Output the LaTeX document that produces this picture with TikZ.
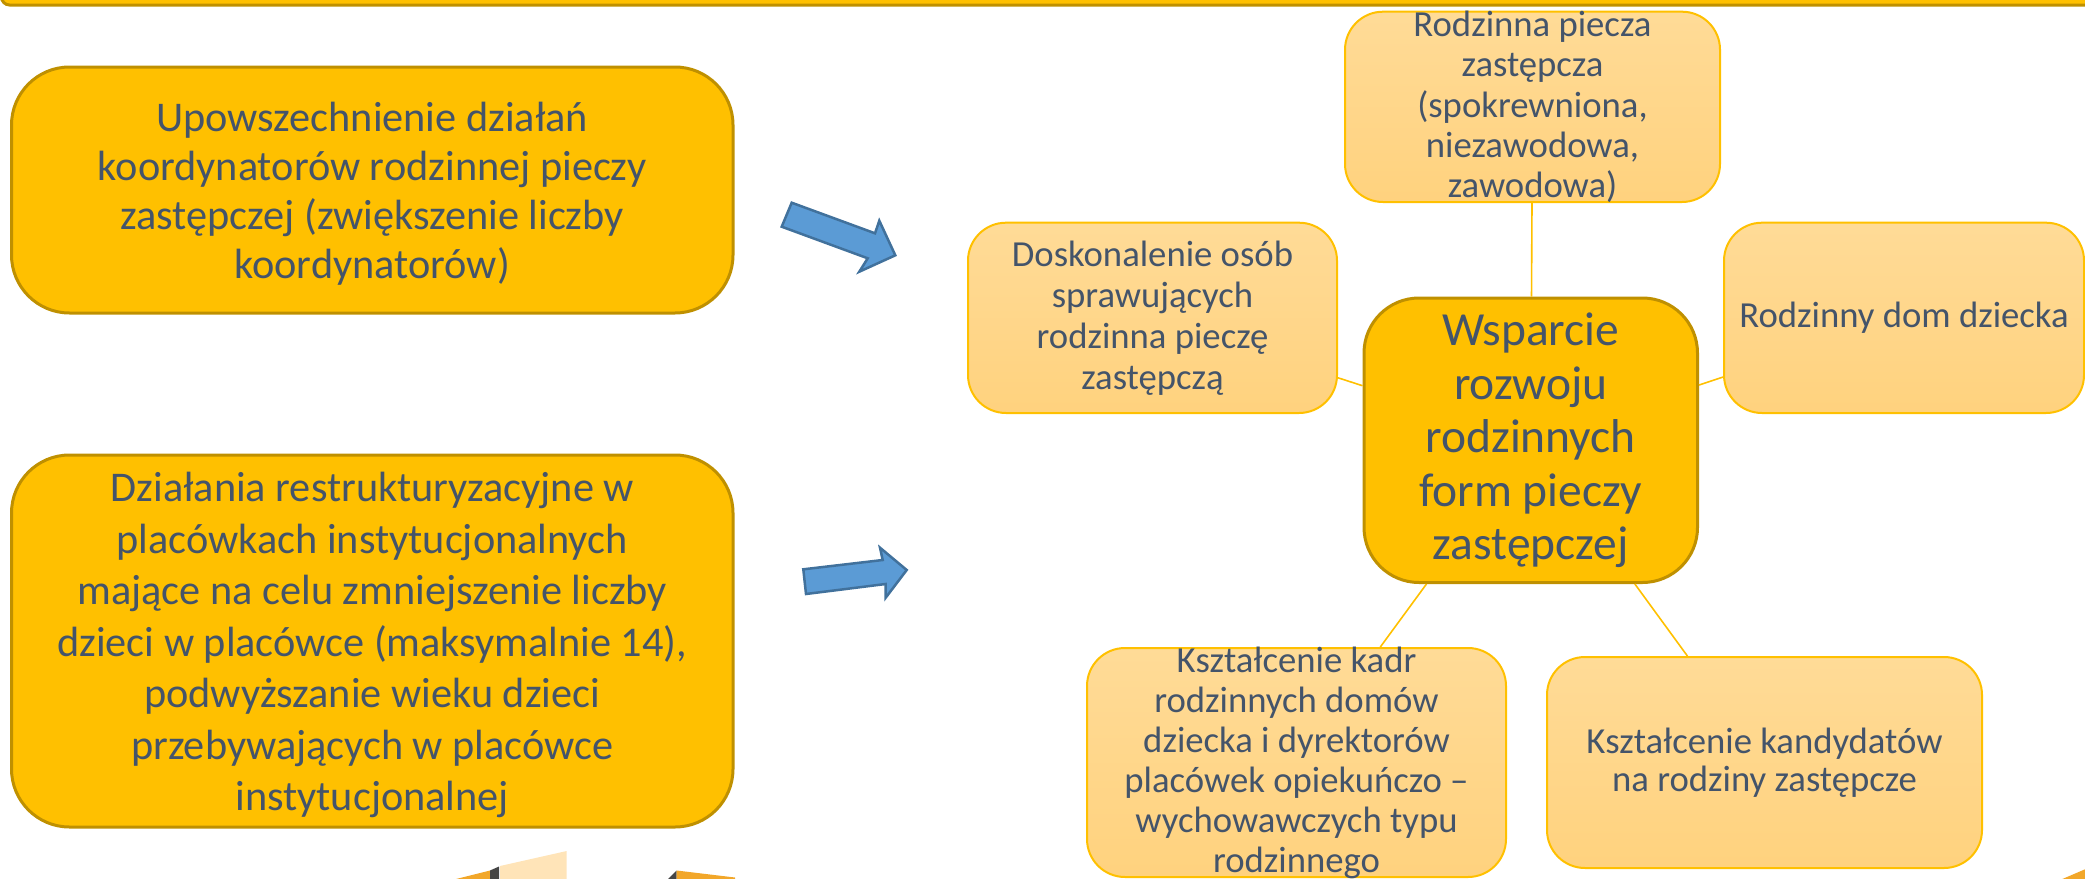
\documentclass[tikz,border=0pt]{standalone}
\usepackage{fontspec}
\setmainfont{Carlito}
\definecolor{gold}{HTML}{FFC000}
\definecolor{goldD}{HTML}{BF9000}
\definecolor{peachT}{HTML}{FFDB97}
\definecolor{peachB}{HTML}{FFD27E}
\definecolor{slate}{HTML}{44546A}
\definecolor{arrowF}{HTML}{5B9BD5}
\definecolor{arrowD}{HTML}{41719C}
\definecolor{orangeS}{HTML}{F2A72A}
\definecolor{grayS}{HTML}{454545}
\definecolor{peachS}{HTML}{FFE4B8}
\tikzset{
  bigbox/.style={draw=goldD, line width=3pt, fill=gold, rounded corners=58pt, inner sep=0pt},
  centerbox/.style={draw=goldD, line width=3pt, fill=gold, rounded corners=55pt, inner sep=0pt},
  smallbox/.style={draw=gold, line width=2pt, top color=peachT, bottom color=peachB, rounded corners=38pt, inner sep=0pt},
  txtbig/.style={text=slate, align=center, inner sep=0pt},
  conn/.style={draw=gold, line width=1.6pt},
  blockarrow/.style={fill=arrowF, draw=arrowD, line width=2.5pt, line join=miter},
}
\begin{document}
\begin{tikzpicture}[x=1pt,y=-1pt]
\useasboundingbox (0,0) rectangle (2085,878);
\begin{scope}
\clip (0,0) rectangle (2085,878);
% top bar
\draw[draw=goldD, fill=gold, line width=3pt, rounded corners=8pt] (1.5,-40) rectangle (2100,5);

% left boxes
\node[bigbox, minimum width=721.5pt, minimum height=246pt] (A) at (372.25,190) {};
\node[txtbig, font=\fontsize{42.3}{49}\selectfont, yshift=-4pt] (Atxt) at (A.center)
  {Upowszechnienie działań\\koordynatorów rodzinnej pieczy\\zastępczej (zwiększenie liczby\\koordynatorów)};
\node[bigbox, minimum width=721.5pt, minimum height=372pt] (B) at (372.25,641) {};
\node[txtbig, font=\fontsize{42.3}{51.5}\selectfont, yshift=-4pt] (Btxt) at (B.center)
  {Działania restrukturyzacyjne w\\placówkach instytucjonalnych\\mające na celu zmniejszenie liczby\\dzieci w placówce (maksymalnie 14),\\podwyższanie wieku dzieci\\przebywających w placówce\\instytucjonalnej};

% block arrows
\coordinate (a1) at (791.7,202.7);
\filldraw[blockarrow] (a1) -- (875,233.3) -- (879.3,220.7) -- (895.3,255.3) -- (859.3,271.7) -- (867.7,258.3) -- (781.7,226.7) -- cycle;
\coordinate (a2) at (803.3,569.3);
\filldraw[blockarrow] (a2) -- (882.7,560) -- (880,547.7) -- (906.7,570) -- (885.7,597.7) -- (885.7,584) -- (806,594) -- cycle;

% radial diagram
\node[centerbox, minimum width=333.5pt, minimum height=284.5pt] (C) at (1530.75,440.25) {};
\node[smallbox, minimum width=375pt, minimum height=190.3pt] (T) at (1532.5,106.85) {};
\node[smallbox, minimum width=369pt, minimum height=190.3pt] (L) at (1152.5,317.85) {};
\node[smallbox, minimum width=360pt, minimum height=190.3pt] (R) at (1904,317.85) {};
\node[smallbox, minimum width=419pt, minimum height=229pt] (BL) at (1296.5,762.5) {};
\node[smallbox, minimum width=435pt, minimum height=211pt] (BR) at (1764.5,762.5) {};

\draw[conn] (C) -- (T);
\draw[conn] (C) -- (L);
\draw[conn] (C) -- (R);
\draw[conn] (C) -- (BL);
\draw[conn] (C) -- (BR);

\node[txtbig, font=\fontsize{47.5}{53.5}\selectfont] (Ctxt) at (C.center)
  {Wsparcie\\rozwoju\\rodzinnych\\form pieczy\\zastępczej};
\node[txtbig, font=\fontsize{36.7}{40.4}\selectfont] (Ttxt) at (T.center)
  {Rodzinna piecza\\zastępcza\\(spokrewniona,\\niezawodowa,\\zawodowa)};
\node[txtbig, font=\fontsize{36.7}{41}\selectfont] (Ltxt) at (L.center)
  {Doskonalenie osób\\sprawujących\\rodzinna pieczę\\zastępczą};
\node[txtbig, font=\fontsize{36.7}{40}\selectfont] (Rtxt) at (R.center)
  {Rodzinny dom dziecka};
\node[txtbig, font=\fontsize{36.7}{40}\selectfont] (BLtxt) at (BL.center)
  {Kształcenie kadr\\rodzinnych domów\\dziecka i dyrektorów\\placówek opiekuńczo –\\wychowawczych typu\\rodzinnego};
\node[txtbig, font=\fontsize{36.7}{38.5}\selectfont] (BRtxt) at (BR.center)
  {Kształcenie kandydatów\\na rodziny zastępcze};

% partial shapes at bottom edge
\fill[orangeS] (452,880) -- (490,870.5) -- (490,880) -- cycle;
\fill[grayS] (490,870.5) -- (499,866.5) -- (499,880) -- (490,880) -- cycle;
\fill[peachS] (500,866) -- (566.7,851) -- (566.7,880) -- (500,880) -- cycle;
\fill[grayS] (667,880) -- (676.7,870.5) -- (676.7,880) -- cycle;
\fill[orangeS] (676.7,870.5) -- (735,877.5) -- (735,880) -- (676.7,880) -- cycle;
\fill[orangeS] (2060,880) -- (2088,868) -- (2088,880) -- cycle;
\end{scope}
\end{tikzpicture}
\end{document}
